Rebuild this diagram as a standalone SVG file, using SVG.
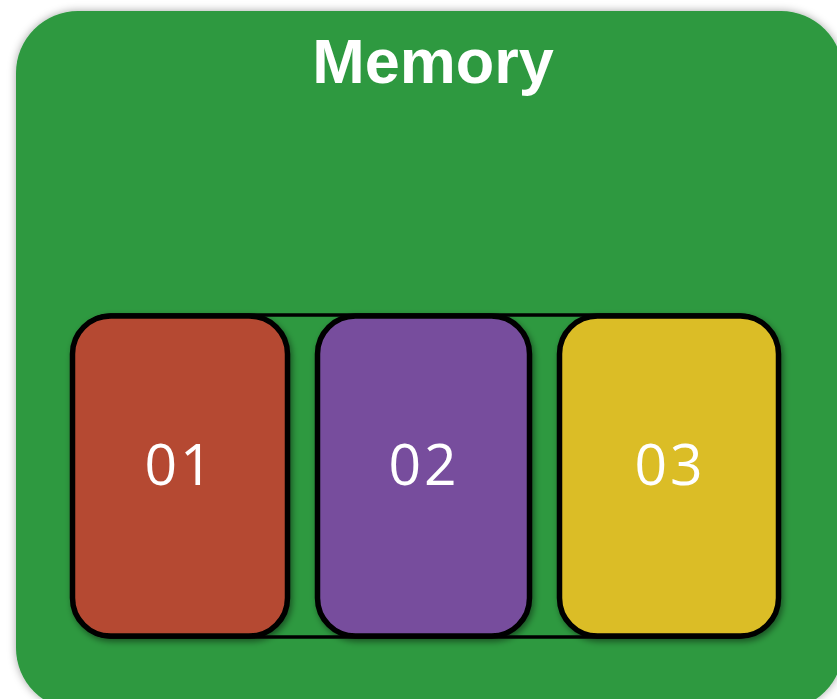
<svg xmlns="http://www.w3.org/2000/svg" width="837" height="699" viewBox="0 0 837 699">
  <style>
    .cell { stroke: #000; stroke-width: 5.5; filter: url(#cellShadow); }
    .num { font-family: "Open Sans", "Liberation Sans", sans-serif; font-size: 57px; fill: #fff; text-anchor: middle; letter-spacing: 3px; }
    .title { font-family: "Liberation Sans", Arial, sans-serif; font-weight: bold; font-size: 63px; fill: #fff; text-anchor: middle; }
  </style>
  <defs>
    <filter id="outerShadow" x="-10%" y="-10%" width="120%" height="120%">
      <feGaussianBlur in="SourceAlpha" stdDeviation="4"/>
      <feOffset dx="0" dy="0" result="b"/>
      <feFlood flood-color="#000" flood-opacity="0.35"/>
      <feComposite in2="b" operator="in"/>
      <feMerge><feMergeNode/><feMergeNode in="SourceGraphic"/></feMerge>
    </filter>
    <filter id="cellShadow" x="-10%" y="-10%" width="125%" height="125%">
      <feGaussianBlur in="SourceAlpha" stdDeviation="3"/>
      <feOffset dx="2" dy="3" result="b"/>
      <feFlood flood-color="#000" flood-opacity="0.45"/>
      <feComposite in2="b" operator="in"/>
      <feMerge><feMergeNode/><feMergeNode in="SourceGraphic"/></feMerge>
    </filter>
  </defs>
  <rect width="837" height="699" fill="#fff"/>
  <g id="memory">
    <rect x="16" y="11" width="827" height="699" rx="62" fill="#2e9940" filter="url(#outerShadow)"/>
    <text class="title" x="433" y="83">Memory</text>
  </g>
  <g id="array">
    <rect x="75" y="315" width="700" height="322" rx="36" fill="#2e9940" stroke="#000" stroke-width="3.5"/>
  </g>
  <g id="cell-01">
    <rect class="cell" x="72.5" y="316" width="215" height="320" rx="38" fill="#b54a33"/>
    <text class="num" x="180" y="485">01</text>
  </g>
  <g id="cell-02">
    <rect class="cell" x="317.5" y="316" width="212" height="320" rx="38" fill="#774e9d"/>
    <text class="num" x="424" y="485">02</text>
  </g>
  <g id="cell-03">
    <rect class="cell" x="559.5" y="316" width="219" height="320" rx="38" fill="#dbbd27"/>
    <text class="num" x="670" y="485">03</text>
  </g>
  <g id="connectors"/>
</svg>
